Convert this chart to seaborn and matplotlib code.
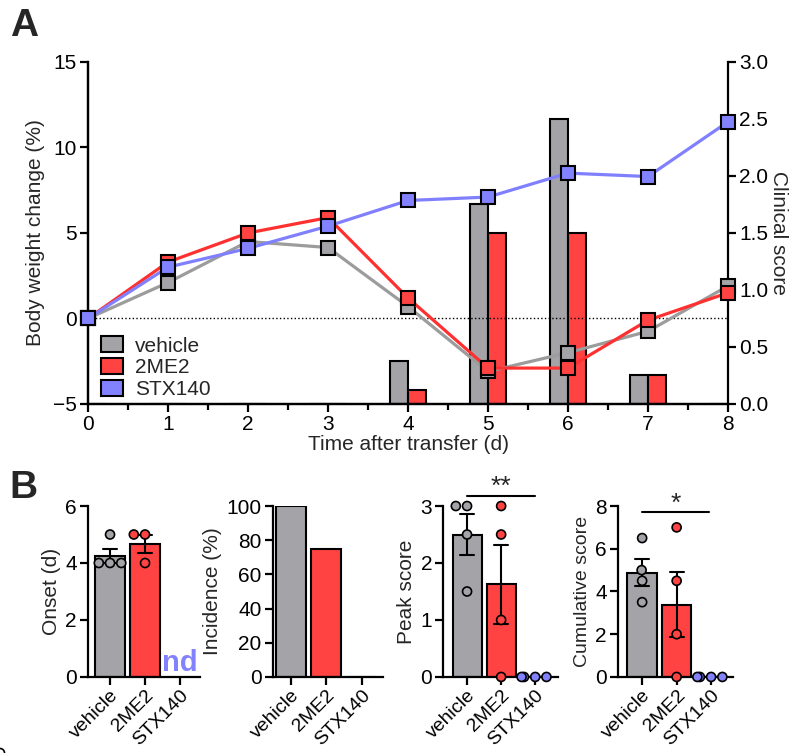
import numpy as np
import pandas as pd
import seaborn as sns
import matplotlib.pyplot as plt
from matplotlib.patches import Patch
from matplotlib.ticker import MultipleLocator, FormatStrFormatter

# ---------------- data ----------------
days = [0, 1, 2, 3, 4, 5, 6, 7, 8]
groups = ['vehicle', '2ME2', 'STX140']

weight_vehicle = [0, 2.1, 4.5, 4.15, 0.7, -3.1, -2.0, -0.75, 1.9]
weight_2me2 = [0, 3.3, 5.0, 5.9, 1.2, -2.9, -2.9, -0.1, 1.5]
weight_stx140 = [0, 3.0, 4.1, 5.4, 6.9, 7.1, 8.5, 8.3, 11.5]

score_vehicle = [0, 0, 0, 0, 0.375, 1.75, 2.5, 0.25, 0]
score_2me2 = [0, 0, 0, 0, 0.125, 1.5, 1.5, 0.25, 0]

onset_vehicle = [4, 4, 4, 5]
onset_2me2 = [5, 5, 4]
incidence = [100, 75, 0]
peak_vehicle = [3, 3, 2.5, 1.5]
peak_2me2 = [3, 2.5, 1, 0]
peak_stx140 = [0, 0, 0, 0]
cum_vehicle = [6.5, 5, 4.5, 3.5]
cum_2me2 = [7, 4.5, 2, 0]
cum_stx140 = [0, 0, 0, 0]

fill = {'vehicle': '#a4a4a8', '2ME2': '#ff4242', 'STX140': '#8282ff'}
line_col = {'vehicle': '#9c9c9c', '2ME2': '#ff3030', 'STX140': '#8080ff'}

sns.set_style('ticks')
plt.rcParams['font.family'] = ['Liberation Sans', 'DejaVu Sans']
plt.rcParams['axes.linewidth'] = 1.6
plt.rcParams['xtick.major.width'] = 1.6
plt.rcParams['ytick.major.width'] = 1.6
plt.rcParams['xtick.minor.width'] = 1.6
plt.rcParams['xtick.major.size'] = 6
plt.rcParams['ytick.major.size'] = 6
plt.rcParams['xtick.minor.size'] = 4
plt.rcParams['xtick.color'] = 'black'
plt.rcParams['ytick.color'] = 'black'
plt.rcParams['axes.edgecolor'] = 'black'

fs = 15

fig = plt.figure(figsize=(8, 7.53), dpi=100)

# ---------------- panel A ----------------
axA = fig.add_axes([0.11, 0.4635, 0.80, 0.4542])
axS = axA.twinx()

# clinical score bars (right axis)
w = 0.22
days_arr = np.array(days)
axS.bar(days_arr - w / 2, score_vehicle, width=w, color=fill['vehicle'],
        edgecolor='black', linewidth=1.5)
axS.bar(days_arr + w / 2, score_2me2, width=w, color=fill['2ME2'],
        edgecolor='black', linewidth=1.5)
axS.set_ylim(0, 3)
axS.yaxis.set_major_locator(MultipleLocator(0.5))
axS.yaxis.set_major_formatter(FormatStrFormatter('%.1f'))
axS.set_ylabel('Clinical score', rotation=270, fontsize=fs, labelpad=14)

# body weight lines (left axis)
weight_df = pd.DataFrame({
    'day': days * 3,
    'weight': weight_vehicle + weight_2me2 + weight_stx140,
    'group': ['vehicle'] * 9 + ['2ME2'] * 9 + ['STX140'] * 9,
})
axA.axhline(0, color='black', linestyle=':', linewidth=1, zorder=1)
for g in groups:
    sub = weight_df[weight_df['group'] == g]
    sns.lineplot(data=sub, x='day', y='weight', color=line_col[g], marker='s',
                 markersize=10, markerfacecolor=fill[g], markeredgecolor='black',
                 markeredgewidth=1.5, linewidth=2.3, ax=axA, clip_on=False,
                 zorder=3)
axA.set_zorder(axS.get_zorder() + 1)
axA.patch.set_visible(False)
axA.set_xlim(0, 8)
axA.set_ylim(-5, 15)
axA.yaxis.set_major_locator(MultipleLocator(5))
axA.xaxis.set_major_locator(MultipleLocator(1))
axA.xaxis.set_minor_locator(MultipleLocator(0.5))
axA.set_xlabel('Time after transfer (d)', fontsize=fs, labelpad=1)
axA.set_ylabel('Body weight change (%)', fontsize=fs, labelpad=6)
for ax in (axA, axS):
    ax.spines['top'].set_visible(False)
    ax.tick_params(labelsize=fs, pad=2)
axA.spines['right'].set_visible(False)

handles = [Patch(facecolor=fill[g], edgecolor='black', linewidth=1.5) for g in groups]
axA.legend(handles, groups, loc='lower left', bbox_to_anchor=(0.008, -0.01),
           frameon=False, fontsize=fs, handlelength=1.05, handleheight=0.8,
           labelspacing=0.12, handletextpad=0.55, borderaxespad=0)

fig.text(0.012, 0.952, 'A', fontsize=28, fontweight='bold')
fig.text(0.012, 0.338, 'B', fontsize=28, fontweight='bold')

# ---------------- panel B ----------------
def bar_panel(ax, values, ylabel, ylim, step, xlim, errors=True, lsize=fs):
    df = pd.DataFrame({
        'group': [g for g, v in zip(groups, values) for _ in v],
        'value': [x for v in values for x in v],
    })
    sns.barplot(data=df, x='group', y='value', hue='group', order=groups,
                hue_order=groups, palette=fill, edgecolor='black', linewidth=1.5,
                width=0.85, errorbar='se' if errors else None, capsize=0.4,
                err_kws={'color': 'black', 'linewidth': 1.5}, legend=False,
                saturation=1, ax=ax)
    if errors:
        sns.swarmplot(data=df, x='group', y='value', hue='group', order=groups,
                      hue_order=groups, palette=fill, edgecolor='black',
                      linewidth=1.2, size=6.5, legend=False, warn_thresh=1,
                      clip_on=False, zorder=4, ax=ax)
    ax.set_ylim(*ylim)
    ax.yaxis.set_major_locator(MultipleLocator(step))
    ax.set_xlim(*xlim)
    ax.set_xlabel('')
    ax.set_ylabel(ylabel, fontsize=lsize, labelpad=3)
    ax.tick_params(axis='y', labelsize=fs, pad=2)
    ax.tick_params(axis='x', labelsize=14, pad=1)
    ax.set_xticks(range(3))
    ax.set_xticklabels(groups, rotation=45, ha='right', rotation_mode='anchor')
    sns.despine(ax=ax)

ax1 = fig.add_axes([0.11, 0.101, 0.14, 0.227])
bar_panel(ax1, [onset_vehicle, onset_2me2, []], 'Onset (d)', (0, 6), 2, (-0.63, 2.57))
ax1.text(2, 0.0, 'nd', color=fill['STX140'], fontsize=21, fontweight='bold',
         ha='center', va='bottom')

ax2 = fig.add_axes([0.341, 0.101, 0.1375, 0.227])
bar_panel(ax2, [[v] for v in incidence], 'Incidence (%)', (0, 100), 20,
          (-0.51, 2.6), errors=False)

ax3 = fig.add_axes([0.554, 0.101, 0.144, 0.227])
bar_panel(ax3, [peak_vehicle, peak_2me2, peak_stx140], 'Peak score', (0, 3), 1,
          (-0.7, 2.68))
ax3.plot([0, 2], [3.18, 3.18], color='black', linewidth=1.5, clip_on=False)
ax3.text(1, 3.12, '**', fontsize=19, ha='center', va='bottom')

ax4 = fig.add_axes([0.7725, 0.101, 0.144, 0.227])
bar_panel(ax4, [cum_vehicle, cum_2me2, cum_stx140], 'Cumulative score', (0, 8), 2,
          (-0.7, 2.64), lsize=14)
ax4.plot([0, 1.95], [7.7, 7.7], color='black', linewidth=1.5, clip_on=False)
ax4.text(0.98, 7.55, '*', fontsize=19, ha='center', va='bottom')

fig.savefig('out.png', dpi=100)
